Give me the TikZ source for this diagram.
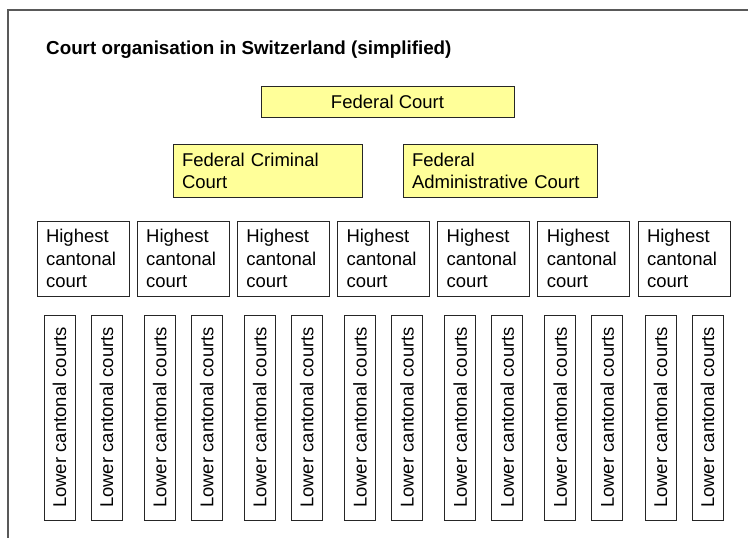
\documentclass[tikz,border=0pt]{standalone}
\usepackage{fontspec}
\setmainfont{Liberation Sans}
\begin{document}
\begin{tikzpicture}[x=1pt,y=-1pt,
  basebox/.style={draw=black!85, line width=0.8pt, inner sep=0pt, text=black},
  fedbox/.style={basebox, fill=yellowfill, inner xsep=9pt, align=left,
     font=\fontsize{18.5}{22}\selectfont},
  highbox/.style={basebox, minimum width=92pt, minimum height=75pt, inner xsep=9pt,
     text width=74pt, align=left, font=\fontsize{18.5}{22.5}\selectfont},
  lowbox/.style={basebox, rotate=90, minimum width=205pt, minimum height=31pt,
     font=\fontsize{18.5}{22.5}\selectfont},
  framestyle/.style={draw=black!65, line width=1.6pt}
]
\definecolor{yellowfill}{HTML}{FFFF99}
\useasboundingbox (0,0) rectangle (748,538);
\fill[white] (0,0) rectangle (748,538);
\coordinate (fb) at (8,538);
\coordinate (fc) at (8,10);
\coordinate (fr) at (748,10);
\draw[framestyle] (fb) -- (fc) -- (fr);

\node[anchor=base west, font=\fontsize{18.8}{22}\selectfont\bfseries, inner sep=0pt] (title) at (46,54)
  {Court organisation in Switzerland (simplified)};

\node[fedbox, minimum width=253pt, minimum height=31pt, align=center, inner xsep=0pt] (fed) at (387.5,101.5) {Federal Court};
\node[fedbox, minimum height=53pt, text width=171pt] (crim) at (267.5,170.5) {Federal Criminal\\Court};
\node[fedbox, minimum height=53pt, text width=176pt] (admin) at (500,170.5) {Federal\\Administrative Court};

\foreach \i in {0,...,6} {
  \pgfmathsetmacro{\lx}{37+100.17*\i}
  \node[highbox] (high\i) at (\lx+46,258.5) {Highest\\cantonal\\court};
  \node[lowbox] (lowa\i) at (\lx+22.5,417.5) {Lower cantonal courts};
  \node[lowbox] (lowb\i) at (\lx+69.5,417.5) {Lower cantonal courts};
}
\end{tikzpicture}
\end{document}
